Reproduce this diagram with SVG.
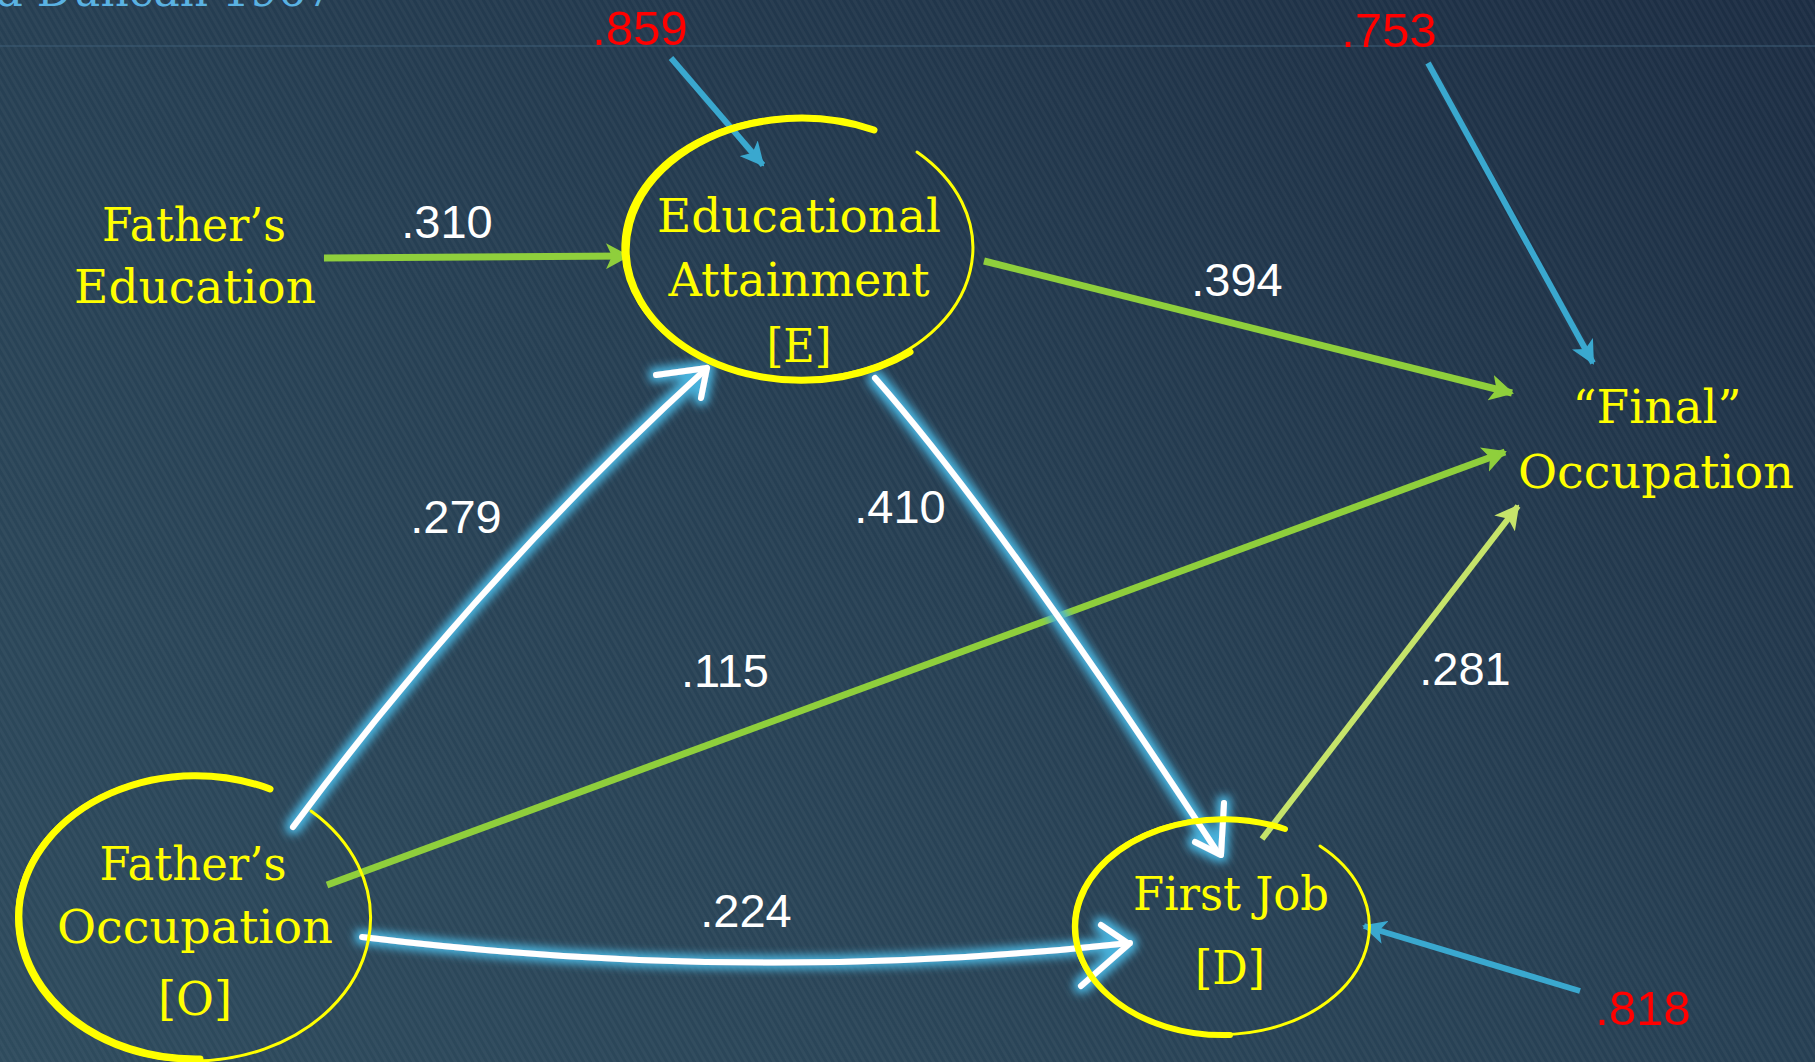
<svg xmlns="http://www.w3.org/2000/svg" width="1815" height="1062" viewBox="0 0 1815 1062">
<defs>
<linearGradient id="bg" x1="0" y1="1" x2="1" y2="0">
<stop offset="0" stop-color="#2e4b5d"/>
<stop offset="0.5" stop-color="#263f53"/>
<stop offset="1" stop-color="#1c2d43"/>
</linearGradient>
<pattern id="stripes" width="6" height="6" patternUnits="userSpaceOnUse" patternTransform="rotate(-30)">
<rect width="3" height="6" fill="#ffffff" opacity="0.035"/>
</pattern>
<filter id="glow" filterUnits="userSpaceOnUse" x="0" y="0" width="1815" height="1062">
<feMorphology operator="dilate" radius="3.5" in="SourceAlpha" result="d"/>
<feGaussianBlur in="d" stdDeviation="4.5" result="b"/>
<feFlood flood-color="#48b2dc" flood-opacity="1"/>
<feComposite in2="b" operator="in" result="g"/>
<feMerge><feMergeNode in="g"/><feMergeNode in="SourceGraphic"/></feMerge>
</filter>
<marker id="ahGreen" viewBox="0 0 24 26" refX="22" refY="13" markerWidth="24" markerHeight="26" markerUnits="userSpaceOnUse" orient="auto">
<path d="M0,0 L24,13 L0,26 L6,13 Z" fill="#8fcf3c"/>
</marker>
<marker id="ahLime" viewBox="0 0 24 26" refX="22" refY="13" markerWidth="24" markerHeight="26" markerUnits="userSpaceOnUse" orient="auto">
<path d="M0,0 L24,13 L0,26 L6,13 Z" fill="#c6e46a"/>
</marker>
<marker id="ahBlue" viewBox="0 0 24 24" refX="22" refY="12" markerWidth="24" markerHeight="24" markerUnits="userSpaceOnUse" orient="auto">
<path d="M0,0 L24,12 L0,24 L6,12 Z" fill="#3aa8cf"/>
</marker>
<style>
.lbl{font-family:"DejaVu Serif","Liberation Serif",serif;font-size:46px;fill:#ffff00;text-anchor:middle}
.num{font-family:"Liberation Sans","Arial",sans-serif;font-size:47px;fill:#ffffff;text-anchor:middle}
.err{font-family:"Liberation Sans","Arial",sans-serif;font-size:49px;fill:#ff0000;text-anchor:middle}
.ring{fill:none;stroke:#ffff00;stroke-linecap:round}
.green{fill:none;stroke:#8fcf3c;stroke-width:7;marker-end:url(#ahGreen)}
.lime{fill:none;stroke:#c6e46a;stroke-width:6;marker-end:url(#ahLime)}
.blue{fill:none;stroke:#3aa8cf;stroke-width:6;marker-end:url(#ahBlue)}
.chalk{fill:none;stroke:#ffffff;stroke-width:6;stroke-linecap:round;stroke-linejoin:round}
</style>
</defs>
<rect width="1815" height="1062" fill="url(#bg)"/>
<rect width="1815" height="1062" fill="url(#stripes)"/>
<line x1="0" y1="46" x2="1815" y2="46" stroke="#3d5d76" stroke-width="1.5" opacity="0.7"/>
<text x="334" y="6" font-family="DejaVu Serif, Liberation Serif, serif" font-size="44" fill="#5ab2e2" text-anchor="end">Blau and Duncan 1967</text>

<g id="connectors">
<path class="green" d="M324,258 L628,256"/>
<path class="green" d="M984,261 L1512,393"/>
<path class="green" d="M327,885 L1505,452"/>
<path class="lime" d="M1262,839 L1518,506"/>
<path class="blue" d="M671,58 L763,165"/>
<path class="blue" d="M1428,63 L1593,363"/>
<path class="blue" d="M1580,991 L1364,926"/>
<g filter="url(#glow)">
<path class="chalk" d="M293,827 Q478,577 707,368"/>
<path class="chalk" d="M656,375 L707,368 L701,398" stroke-width="7"/>
<path class="chalk" d="M875,378 Q1000,520 1218,853"/>
<path class="chalk" d="M1224,803 L1221,855 L1195,842" stroke-width="7"/>
<path class="chalk" d="M362,937 Q750,985 1130,943" stroke-width="9"/>
<path class="chalk" d="M1101,925 L1129,944 L1081,986" stroke-width="9"/>
</g>
<g id="coef">
<text class="num" x="447" y="238">.310</text>
<text class="num" x="1237" y="296">.394</text>
<text class="num" x="456" y="533">.279</text>
<text class="num" x="900" y="523">.410</text>
<text class="num" x="725" y="687">.115</text>
<text class="num" x="746" y="927">.224</text>
<text class="num" x="1465" y="685">.281</text>
<text class="err" x="640" y="45">.859</text>
<text class="err" x="1389" y="47">.753</text>
<text class="err" x="1643" y="1025">.818</text>
</g>
</g>

<g id="node-father-education">
<text class="lbl" x="194" y="241" textLength="184" lengthAdjust="spacingAndGlyphs">Father’s</text>
<text class="lbl" x="195" y="303" textLength="242" lengthAdjust="spacingAndGlyphs">Education</text>
</g>

<g id="node-educational-attainment">
<path class="ring" stroke-width="3" d="M917,152 A175,131 0 1 1 874,130"/>
<path class="ring" stroke-width="7" d="M874,130 A175,131 0 0 0 640,300 A175,131 0 0 0 910,352"/>
<text class="lbl" x="799" y="232" textLength="284" lengthAdjust="spacingAndGlyphs">Educational</text>
<text class="lbl" x="799" y="296" textLength="261" lengthAdjust="spacingAndGlyphs">Attainment</text>
<text class="lbl" x="799" y="362" textLength="65" lengthAdjust="spacingAndGlyphs">[E]</text>
</g>

<g id="node-final-occupation">
<text class="lbl" x="1657" y="423" textLength="169" lengthAdjust="spacingAndGlyphs">“Final”</text>
<text class="lbl" x="1656" y="488" textLength="276" lengthAdjust="spacingAndGlyphs">Occupation</text>
</g>

<g id="node-father-occupation">
<path class="ring" stroke-width="3" d="M311,811 A177,143 0 1 1 270,789"/>
<path class="ring" stroke-width="7" d="M270,789 A177,143 0 0 0 20,900 A177,143 0 0 0 200,1059"/>
<text class="lbl" x="193" y="880" textLength="187" lengthAdjust="spacingAndGlyphs">Father’s</text>
<text class="lbl" x="195" y="943" textLength="276" lengthAdjust="spacingAndGlyphs">Occupation</text>
<text class="lbl" x="195" y="1015" textLength="74" lengthAdjust="spacingAndGlyphs">[O]</text>
</g>

<g id="node-first-job">
<path class="ring" stroke-width="3" d="M1320,846 A148,108 0 1 1 1285,829"/>
<path class="ring" stroke-width="6" d="M1285,829 A148,108 0 0 0 1080,900 A148,108 0 0 0 1230,1035"/>
<text class="lbl" x="1231" y="910" textLength="196" lengthAdjust="spacingAndGlyphs">First Job</text>
<text class="lbl" x="1230" y="984" textLength="70" lengthAdjust="spacingAndGlyphs">[D]</text>
</g>
</svg>
